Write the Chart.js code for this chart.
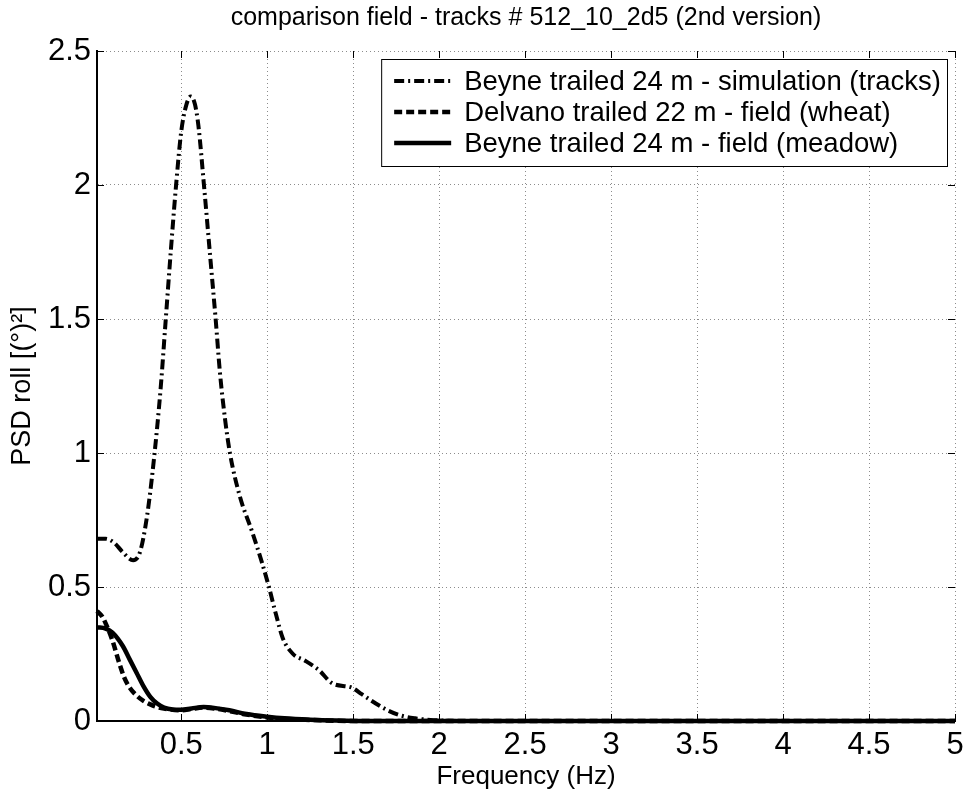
<!DOCTYPE html>
<html>
<head>
<meta charset="utf-8">
<script src="https://cdn.jsdelivr.net/npm/chart.js@4.4.1/dist/chart.umd.min.js"></script>
<style>
  html, body { margin: 0; padding: 0; background: #fff; }
  #psd-chart { display: block; }
</style>
</head>
<body>
<canvas id="psd-chart" width="970" height="794"></canvas>
<script>
// Data
const titleText = "comparison field - tracks # 512_10_2d5 (2nd version)";
const seriesLabels = [
    "Beyne trailed 24 m - simulation (tracks)",
    "Delvano trailed 22 m - field (wheat)",
    "Beyne trailed 24 m - field (meadow)"
];

const simFreq = [0.01, 0.06, 0.11, 0.16, 0.22, 0.26, 0.30, 0.34, 0.38, 0.41, 0.44, 0.47, 0.50, 0.53, 0.555, 0.58, 0.60, 0.632, 0.67, 0.70, 0.725, 0.754, 0.783, 0.84, 0.91, 0.97, 1.01, 1.05, 1.09, 1.15, 1.22, 1.30, 1.38, 1.49, 1.55, 1.62, 1.70, 1.78, 1.86, 1.95, 2.05, 2.2, 3, 4, 5];
const simPsd  = [0.68, 0.68, 0.665, 0.63, 0.60, 0.63, 0.76, 0.97, 1.24, 1.50, 1.76, 2.00, 2.20, 2.30, 2.33, 2.30, 2.22, 2.00, 1.72, 1.50, 1.30, 1.13, 1.00, 0.84, 0.71, 0.59, 0.50, 0.40, 0.31, 0.25, 0.225, 0.19, 0.14, 0.125, 0.10, 0.07, 0.04, 0.02, 0.01, 0.004, 0.001, 0, 0, 0, 0];

const wheatFreq = [0.01, 0.04, 0.07, 0.10, 0.14, 0.17, 0.20, 0.24, 0.28, 0.32, 0.36, 0.42, 0.50, 0.56, 0.63, 0.70, 0.78, 0.88, 1.0, 1.1, 1.25, 1.4, 1.6, 3, 5];
const wheatPsd  = [0.41, 0.39, 0.35, 0.30, 0.215, 0.16, 0.125, 0.095, 0.075, 0.062, 0.052, 0.044, 0.040, 0.045, 0.050, 0.046, 0.037, 0.024, 0.013, 0.008, 0.004, 0.001, 0, 0, 0];

const meadowFreq = [0.01, 0.06, 0.10, 0.16, 0.20, 0.24, 0.28, 0.32, 0.36, 0.40, 0.45, 0.50, 0.56, 0.63, 0.70, 0.78, 0.88, 1.0, 1.1, 1.25, 1.4, 1.6, 3, 5];
const meadowPsd  = [0.35, 0.345, 0.33, 0.28, 0.23, 0.18, 0.13, 0.09, 0.065, 0.05, 0.043, 0.042, 0.047, 0.052, 0.048, 0.040, 0.026, 0.016, 0.010, 0.005, 0.002, 0, 0, 0];

const xTicks = [0.5, 1, 1.5, 2, 2.5, 3, 3.5, 4, 4.5, 5];
const yTicks = [0, 0.5, 1, 1.5, 2, 2.5];

// Helpers
const FONT = "'Liberation Sans', Arial, Helvetica, sans-serif";
const toPoints = (xs, ys) => xs.map((x, i) => ({x: x, y: ys[i]}));

// Legend drawn inside the axes, MATLAB style
const boxLegend = {
    id: "boxLegend",
    afterDraw(chart) {
        const {ctx, chartArea} = chart;
        ctx.save();
        ctx.font = "27.5px " + FONT;
        let textW = 0;
        chart.data.datasets.forEach(ds => {
            textW = Math.max(textW, ctx.measureText(ds.label).width);
        });
        const w = 83 + textW + 6;
        const h = 107;
        const right = chartArea.right - 8;
        const left = right - w;
        const top = chartArea.top + 8;

        ctx.fillStyle = "#fff";
        ctx.fillRect(left, top, w, h);
        ctx.strokeStyle = "#000";
        ctx.lineWidth = 1;
        ctx.setLineDash([]);
        ctx.strokeRect(left + 0.5, top + 0.5, w, h);

        chart.data.datasets.forEach((ds, i) => {
            const y = top + 22 + i * 31;
            ctx.beginPath();
            ctx.setLineDash(ds.borderDash || []);
            ctx.lineWidth = ds.borderWidth;
            ctx.strokeStyle = ds.borderColor;
            ctx.moveTo(left + 13, y);
            ctx.lineTo(left + 70, y);
            ctx.stroke();
            ctx.setLineDash([]);
            ctx.fillStyle = "#000";
            ctx.textBaseline = "middle";
            ctx.textAlign = "left";
            ctx.fillText(ds.label, left + 83, y + 1);
        });
        ctx.restore();
    }
};

// Small inward tick marks on the axes
const inwardTicks = {
    id: "inwardTicks",
    afterDatasetsDraw(chart) {
        const {ctx, chartArea, scales} = chart;
        ctx.save();
        ctx.strokeStyle = "#000";
        ctx.lineWidth = 1;
        ctx.beginPath();
        xTicks.forEach(v => {
            const px = Math.round(scales.x.getPixelForValue(v)) + 0.5;
            ctx.moveTo(px, chartArea.bottom);
            ctx.lineTo(px, chartArea.bottom - 7);
            ctx.moveTo(px, chartArea.top);
            ctx.lineTo(px, chartArea.top + 7);
        });
        yTicks.forEach(v => {
            const py = Math.round(scales.y.getPixelForValue(v)) + 0.5;
            ctx.moveTo(chartArea.left, py);
            ctx.lineTo(chartArea.left + 7, py);
            ctx.moveTo(chartArea.right, py);
            ctx.lineTo(chartArea.right - 7, py);
        });
        ctx.stroke();
        ctx.restore();
    }
};

new Chart(document.getElementById("psd-chart"), {
    type: "line",
    data: {
        datasets: [
            {
                label: seriesLabels[0],
                data: toPoints(simFreq, simPsd),
                borderColor: "#000",
                borderWidth: 4,
                borderDash: [10, 4, 2, 4],
                pointRadius: 0,
                cubicInterpolationMode: "monotone",
                clip: 6
            },
            {
                label: seriesLabels[1],
                data: toPoints(wheatFreq, wheatPsd),
                borderColor: "#000",
                borderWidth: 4.5,
                borderDash: [8, 4],
                pointRadius: 0,
                cubicInterpolationMode: "monotone",
                clip: 6
            },
            {
                label: seriesLabels[2],
                data: toPoints(meadowFreq, meadowPsd),
                borderColor: "#000",
                borderWidth: 4.5,
                pointRadius: 0,
                cubicInterpolationMode: "monotone",
                clip: 6
            }
        ]
    },
    options: {
        responsive: false,
        animation: false,
        events: [],
        layout: {padding: {left: 0, right: 15, top: 0, bottom: 0}},
        plugins: {
            legend: {display: false},
            tooltip: {enabled: false},
            title: {
                display: true,
                fullSize: false,
                text: titleText,
                color: "#000",
                font: {family: FONT, size: 25, weight: "normal"},
                padding: {top: 3, bottom: 18}
            }
        },
        scales: {
            x: {
                type: "linear",
                min: 0.01,
                max: 5,
                afterBuildTicks: (scale) => {
                    scale.ticks = xTicks.map(v => ({value: v}));
                },
                afterFit: (scale) => {
                    scale.height = 73;
                },
                ticks: {
                    color: "#000",
                    font: {family: FONT, size: 31},
                    padding: 6,
                    maxRotation: 0,
                    callback: (v) => String(v)
                },
                grid: {
                    color: "rgba(0,0,0,0.45)",
                    lineWidth: 1,
                    drawTicks: false
                },
                border: {display: true, color: "#000", width: 2, dash: [1, 3]},
                title: {
                    display: true,
                    text: "Frequency (Hz)",
                    color: "#000",
                    font: {family: FONT, size: 26},
                    padding: {top: 0, bottom: 2}
                }
            },
            y: {
                type: "linear",
                min: 0,
                max: 2.5,
                afterBuildTicks: (scale) => {
                    scale.ticks = yTicks.map(v => ({value: v}));
                },
                afterFit: (scale) => {
                    scale.width = 97;
                },
                ticks: {
                    color: "#000",
                    font: {family: FONT, size: 31},
                    padding: 6,
                    callback: (v) => String(v)
                },
                grid: {
                    color: "rgba(0,0,0,0.45)",
                    lineWidth: 1,
                    drawTicks: false
                },
                border: {display: true, color: "#000", width: 2, dash: [1, 3]},
                title: {
                    display: true,
                    text: "PSD roll [(°)²]",
                    color: "#000",
                    font: {family: FONT, size: 27},
                    padding: {top: 6, bottom: 0}
                }
            }
        }
    },
    plugins: [inwardTicks, boxLegend]
});
</script>
</body>
</html>
